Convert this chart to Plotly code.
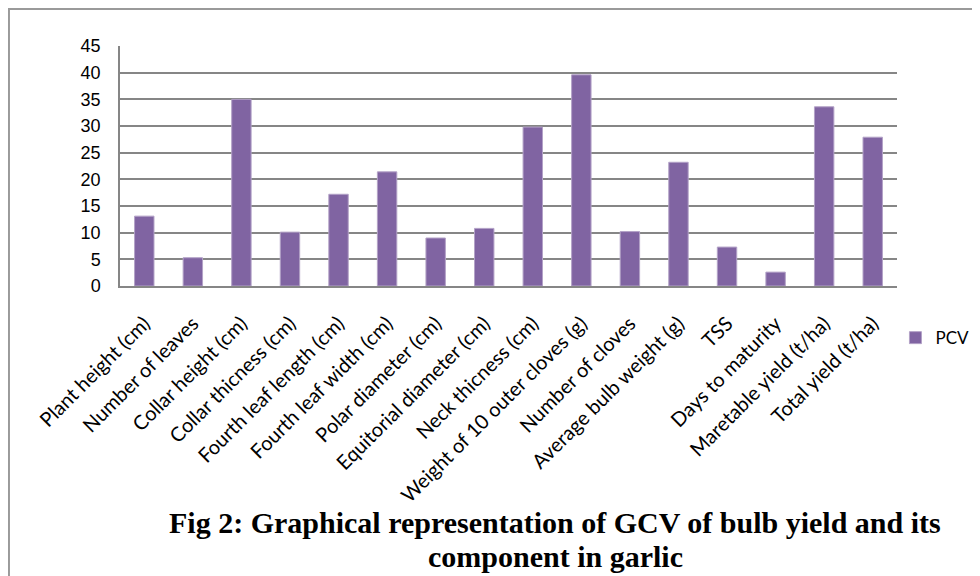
import plotly.graph_objects as go

categories = [
    "Plant height (cm)", "Number of leaves", "Collar height (cm)",
    "Collar thicness (cm)", "Fourth leaf length (cm)", "Fourth leaf width (cm)",
    "Polar diameter (cm)", "Equitorial diameter (cm)", "Neck thicness (cm)",
    "Weight of 10 outer cloves (g)", "Number of cloves", "Average bulb weight (g)",
    "TSS", "Days to maturity", "Maretable yield (t/ha)", "Total yield (t/ha)",
]
pcv = [13.1, 5.3, 35.0, 10.1, 17.2, 21.4, 9.0, 10.8, 29.8, 39.6, 10.2, 23.2, 7.3, 2.6, 33.6, 27.9]
y_ticks = [0, 5, 10, 15, 20, 25, 30, 35, 40, 45]
title_lines = ["Fig 2: Graphical representation of GCV of bulb yield and its",
               "component in garlic"]

fig = go.Figure()
fig.add_trace(go.Bar(
    x=categories, y=pcv, name="PCV",
    marker=dict(color="#8064A2", line=dict(color="#B3A2C7", width=1)),
))

fig.update_layout(
    width=980, height=576,
    margin=dict(l=112, r=91, t=38, b=298, autoexpand=False),
    paper_bgcolor="white", plot_bgcolor="white",
    bargap=0.6,
    showlegend=True,
    legend=dict(x=0.998, y=-0.217, xanchor="left", yanchor="middle",
                font=dict(family="Lato", size=17, color="black"),
                itemwidth=30, bgcolor="rgba(0,0,0,0)"),
    xaxis=dict(
        tickangle=-45, showgrid=False, showline=True, linecolor="#868686", linewidth=2,
        tickfont=dict(family="Lato", size=20, color="black"),
        ticks="", fixedrange=True, automargin=False, ticklabelstandoff=16,
    ),
    yaxis=dict(
        range=[0, 45], tickvals=y_ticks, showgrid=True, gridcolor="#868686", gridwidth=1.5,
        showline=True, linecolor="#868686", linewidth=1.5,
        tickfont=dict(family="Liberation Sans", size=18, color="black"),
        ticklabelstandoff=14, zeroline=False, automargin=False,
    ),
    annotations=[
        dict(text=title_lines[0], xref="paper", yref="paper",
             x=0.56, y=(286 - 522) / 240, xanchor="center", yanchor="middle", showarrow=False,
             font=dict(family="Liberation Serif", size=30, color="black", weight="bold")),
        dict(text=title_lines[1], xref="paper", yref="paper",
             x=0.56, y=(286 - 556) / 240, xanchor="center", yanchor="middle", showarrow=False,
             font=dict(family="Liberation Serif", size=30, color="black", weight="bold")),
    ],
    shapes=[
        dict(type="rect", xref="paper", yref="paper", x0=-0.1429, y0=-2.0, x1=1.2, y1=1.154,
             line=dict(color="#9a9a9a", width=2), fillcolor="rgba(0,0,0,0)", layer="below"),
    ],
)

fig.write_html("out.html")
